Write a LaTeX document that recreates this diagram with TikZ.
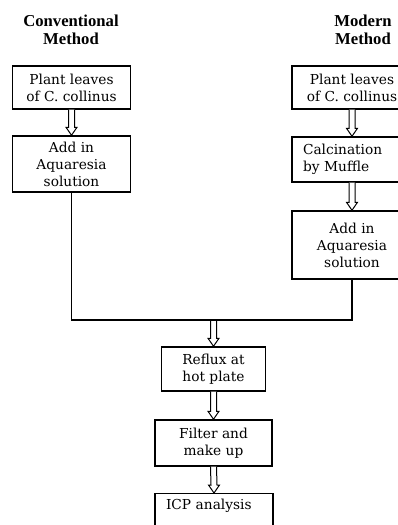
\documentclass[tikz,border=0pt]{standalone}
\usepackage{fontspec}
\setmainfont{DejaVu Serif}
\newfontfamily\headfont{Liberation Serif}
\usetikzlibrary{calc}

\tikzset{every picture/.style={line width=0.75pt}}
\tikzset{
	stepbox/.style={draw, line width=1.1pt, align=center, inner sep=0pt, font=\fontsize{10.3}{12.75}\selectfont},
	flowline/.style={line width=1pt},
	hollow/.style={line width=0.75pt, fill=white},
	heading/.style={align=center, inner sep=0pt, font=\headfont\bfseries\fontsize{12.5}{13.5}\selectfont},
}
% open double-line arrow from #1 down to #2
\newcommand{\hollowarrow}[2]{%
	\draw[hollow] ($(#1)+(-3,0)$) -- ($(#2)+(-3,-8)$) -- ($(#2)+(-5.5,-8)$) -- (#2) -- ($(#2)+(5.5,-8)$) -- ($(#2)+(3,-8)$) -- ($(#1)+(3,0)$) ;}

\begin{document}
\begin{tikzpicture}[x=0.75pt,y=0.75pt,yscale=-1,xscale=1]
	\useasboundingbox (0,0) rectangle (398,525);
	\clip (0,0) rectangle (398,525);
	
	% Text Node
	\node (hconv) [heading] at (71,30) {Conventional\\Method};
	% Text Node
	\node (hmod) [heading] at (363,30) {Modern\\Method};
	
	%Shape: Rectangle (conventional)
	\node (pl1) [stepbox, minimum width=88.5pt, minimum height=32.25pt] at (71.5,87.5) {Plant leaves\\of C. collinus};
	\node (aq1) [stepbox, minimum width=88.5pt, minimum height=42pt] at (71.5,164) {Add in\\Aquaresia\\solution};
	
	%Shape: Rectangle (modern)
	\node (pl2) [stepbox, minimum width=90pt, minimum height=32.25pt] at (352,87.5) {Plant leaves\\of C. collinus};
	\node (cal) [stepbox, minimum width=90pt, minimum height=33.75pt, align=left, text width=73.5pt] at (352,159.5) {Calcination\\by Muffle};
	\node (aq2) [stepbox, minimum width=90pt, minimum height=51pt] at (352,245) {Add in\\Aquaresia\\solution};
	
	%Shape: Rectangle (common)
	\node (reflux) [stepbox, minimum width=78pt, minimum height=33pt] at (213.5,369) {Reflux at\\hot plate};
	\node (filter) [stepbox, minimum width=87.75pt, minimum height=34.5pt] at (213.5,443) {Filter and\\make up};
	\node (icp) [stepbox, anchor=north, minimum width=88.5pt, align=left, text width=72pt, inner ysep=4pt, text height=7.5pt, text depth=30pt] at (214,493) {ICP analysis};
	
	%Arrows
	\hollowarrow{pl1.south}{aq1.north}
	\hollowarrow{pl2.south}{cal.north}
	\hollowarrow{cal.south}{aq2.north}
	\coordinate (merge) at (reflux.north |- 0,320);
	\hollowarrow{merge}{reflux.north}
	\hollowarrow{reflux.south}{filter.north}
	\hollowarrow{filter.south}{icp.north}
	
	%Straight Lines
	\draw[flowline] (aq1.south) -- (aq1.south |- merge) -- (aq2.south |- merge) -- (aq2.south) ;
	
\end{tikzpicture}
\end{document}
